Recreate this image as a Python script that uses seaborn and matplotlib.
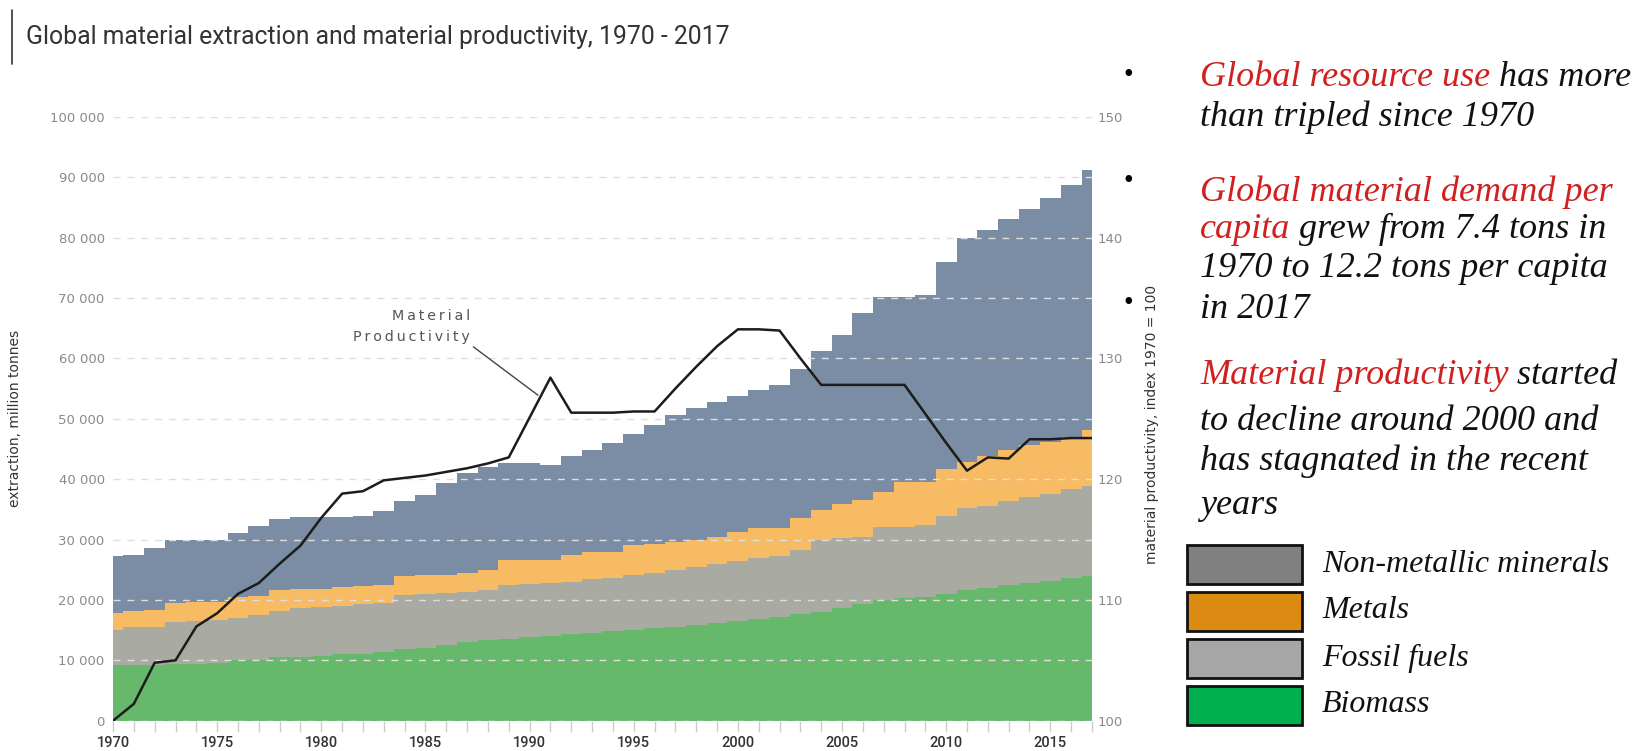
import numpy as np
import pandas as pd
import matplotlib
matplotlib.use('Agg')
import matplotlib.pyplot as plt
import seaborn as sns
from matplotlib.patches import Rectangle
from matplotlib.lines import Line2D

years = list(range(1970, 2018))

# million tonnes
biomass = [9200, 9250, 9300, 9350, 9400, 9500, 10000, 10100, 10500, 10600,
           10700, 11000, 11100, 11300, 11900, 12100, 12600, 13000, 13300, 13500,
           13900, 14100, 14300, 14500, 14900, 15100, 15300, 15500, 15800, 16100,
           16500, 16800, 17100, 17600, 18000, 18600, 19300, 20000, 20300, 20500,
           21000, 21700, 22000, 22500, 22800, 23200, 23600, 23900]
fossil_fuels = [5900, 6250, 6300, 7050, 7100, 7100, 7000, 7400, 7600, 8000,
                8100, 8000, 8200, 8200, 8900, 8900, 8500, 8300, 8400, 8900,
                8700, 8700, 8700, 9000, 8800, 9000, 9200, 9400, 9600, 9800,
                9900, 10100, 10200, 10700, 12000, 11600, 11100, 12000, 11700, 11900,
                12900, 13600, 13600, 13800, 14200, 14400, 14700, 14900]
metals = [2700, 2700, 2800, 3100, 3100, 3000, 3500, 3200, 3500, 3200,
          3000, 3100, 3000, 3000, 3100, 3100, 3000, 3100, 3200, 4200,
          4000, 3800, 4400, 4500, 4300, 5000, 4800, 4700, 4600, 4600,
          4900, 5000, 4600, 5300, 4900, 5700, 6200, 5900, 7600, 7200,
          7700, 7600, 8300, 8600, 8600, 8600, 8600, 9400]
non_metallic = [9400, 9300, 10200, 10400, 10400, 10400, 10500, 11500, 11800, 12000,
                12000, 11700, 11600, 12200, 12400, 13200, 15200, 16600, 17100, 16000,
                16000, 15800, 16500, 16800, 18000, 18400, 19700, 21000, 21800, 22300,
                22400, 22900, 23700, 24600, 26300, 28000, 30900, 32200, 30500, 30900,
                34300, 37000, 37300, 38200, 39200, 40300, 41800, 43000]

# index 1970 = 100
productivity = [100.0, 101.4, 104.8, 105.0, 107.8, 108.9, 110.5, 111.4, 113.0, 114.5,
                116.8, 118.8, 119.0, 119.9, 120.1, 120.3, 120.6, 120.9, 121.3, 121.8,
                125.1, 128.4, 125.5, 125.5, 125.5, 125.6, 125.6, 127.5, 129.3, 131.0,
                132.4, 132.4, 132.3, 130.0, 127.8, 127.8, 127.8, 127.8, 127.8, 125.4,
                123.0, 120.7, 121.8, 121.7, 123.3, 123.3, 123.4, 123.4]

layer_names = ['Biomass', 'Fossil fuels', 'Metals', 'Non-metallic minerals']
area_colors = ['#66b96b', '#a9aaa1', '#f7bb63', '#7b8da4']
legend_colors = ['#808080', '#dc8b12', '#a6a6a6', '#00b050']
legend_names = ['Non-metallic minerals', 'Metals', 'Fossil fuels', 'Biomass']

df = pd.DataFrame({'year': years, 'Biomass': biomass, 'Fossil fuels': fossil_fuels,
                   'Metals': metals, 'Non-metallic minerals': non_metallic})
cum = df[layer_names].cumsum(axis=1)
prod = pd.DataFrame({'year': years, 'index': productivity})

sns.set_theme(style='white')
plt.rcParams['font.family'] = ['Roboto', 'DejaVu Sans']

fig = plt.figure(figsize=(16.5, 7.51), dpi=100)
ax = fig.add_axes([0.0685, 0.0403, 0.5933, 0.8043])

lower = np.zeros(len(years))
for name, col in zip(layer_names, area_colors):
    upper = cum[name].values
    ax.fill_between(df['year'], lower, upper, step='mid', color=col, lw=0, zorder=1)
    lower = upper

ax.set_xlim(1970, 2017)
ax.set_ylim(0, 100000)
ax.set_yticks(range(0, 100001, 10000))
ax.set_yticklabels([f'{v:,}'.replace(',', ' ') for v in range(0, 100001, 10000)],
                   fontsize=9.5, color='#8a8a8a', family=['DejaVu Sans'])
ax.set_xticks(range(1970, 2016, 5))
ax.set_xticks(range(1970, 2018), minor=True)
ax.set_xticklabels([str(y) for y in range(1970, 2016, 5)], fontsize=10.5,
                   color='#333333', fontweight='medium')
ax.tick_params(axis='x', which='both', length=8, color='#cccccc', width=1, pad=3,
               bottom=True, direction='out')
ax.tick_params(axis='y', length=0, pad=6)
ax.set_axisbelow(False)
ax.yaxis.grid(True, color='#dedede', lw=1.0, ls=(0, (5, 5)))
ax.xaxis.grid(False)
for s in ax.spines.values():
    s.set_visible(False)
ax.set_ylabel('extraction, million tonnes', fontsize=10, color='#333333',
              family=['DejaVu Sans'])
ax.yaxis.set_label_coords(-0.093, 0.5)

ax2 = ax.twinx()
sns.lineplot(data=prod, x='year', y='index', ax=ax2, color='#1c1c1c', lw=1.8)
ax2.set_ylim(100, 150)
ax2.set_yticks(range(100, 151, 10))
ax2.set_yticklabels([str(v) for v in range(100, 151, 10)], fontsize=9.5,
                    color='#8a8a8a', family=['DejaVu Sans'])
ax2.tick_params(axis='y', length=0, pad=4)
ax2.set_ylabel('material productivity, index 1970 = 100', fontsize=10,
               color='#333333', family=['DejaVu Sans'])
ax2.yaxis.set_label_coords(1.054, 0.49)
ax2.set_xlabel('')
for s in ax2.spines.values():
    s.set_visible(False)
ax2.set_xlim(1970, 2017)

# line label with leader
sp = '\u2009'
ax.text(1987.15, 67000, sp.join('Material'), ha='right', va='center',
        fontsize=10.3, color='#555555', family=['DejaVu Sans'])
ax.text(1987.15, 63500, sp.join('Productivity'), ha='right', va='center',
        fontsize=10.3, color='#555555', family=['DejaVu Sans'])
ax.plot([1987.3, 1990.4], [61900, 53900], color='#444444', lw=1, zorder=5)

# title
fig.text(0.0155, 0.951, 'Global material extraction and material productivity, 1970 - 2017',
         fontsize=17.8, color='#333333', va='center', ha='left')
fig.add_artist(Line2D([0.0075, 0.0075], [0.915, 0.987], color='#333333', lw=1.2))

# bullets on the right
serif = ['Liberation Serif', 'DejaVu Serif']
red = '#d02020'
fs = 26
x_text = 1200 / 1650
bullet_y = [76, 181, 303]
for by in bullet_y:
    fig.text(1128 / 1650, 1 - by / 751, '\u2022', fontsize=20, color='black',
             ha='center', va='center', family=serif)

lines = [
    (77, 'Global resource use', ' has more'),
    (117, '', 'than tripled since 1970'),
    (192, 'Global material demand per', ''),
    (229, 'capita', ' grew from 7.4 tons in'),
    (269, '', '1970 to 12.2 tons per capita'),
    (309, '', 'in 2017'),
    (375, 'Material productivity', ' started'),
    (421, '', 'to decline around 2000 and'),
    (461, '', 'has stagnated in the recent'),
    (506, '', 'years'),
]
for ly, red_part, black_part in lines:
    yy = 1 - ly / 751
    if red_part:
        t = fig.text(x_text, yy, red_part, fontsize=fs, color=red, style='italic',
                     family=serif, va='center', ha='left')
        if black_part:
            ax.annotate(black_part, xy=(1, 0), xycoords=t, va='bottom', ha='left',
                        fontsize=fs, color='#111111', style='italic', family=serif,
                        annotation_clip=False)
    else:
        fig.text(x_text, yy, black_part, fontsize=fs, color='#111111', style='italic',
                 family=serif, va='center', ha='left')

# legend boxes
box_y = [545, 592, 639, 686]
for by, col, name in zip(box_y, legend_colors, legend_names):
    fig.add_artist(Rectangle((1187 / 1650, 1 - (by + 39) / 751), 115 / 1650, 39 / 751,
                             facecolor=col, edgecolor='#111111', lw=2,
                             transform=fig.transFigure))
    fig.text(1322 / 1650, 1 - (by + 19) / 751, name, fontsize=23, style='italic',
             color='#111111', family=serif, va='center', ha='left')

fig.savefig('out.png', dpi=100)
